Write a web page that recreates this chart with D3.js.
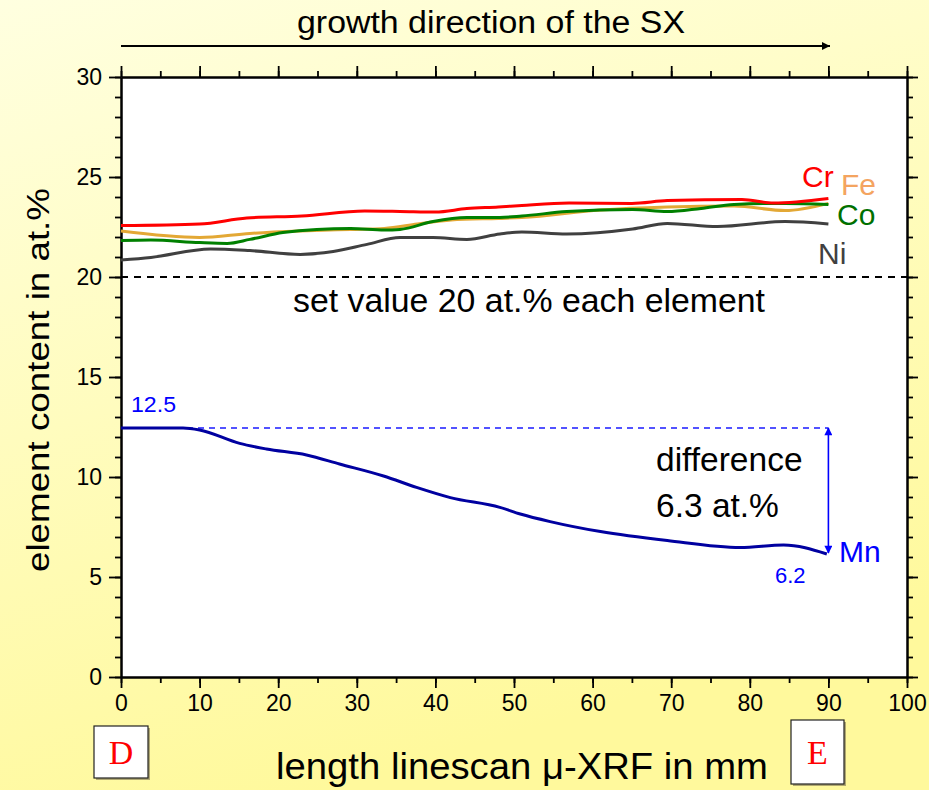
<!DOCTYPE html>
<html>
<head>
<meta charset="utf-8">
<script src="https://cdn.jsdelivr.net/npm/d3@7"></script>
<style>
  html, body { margin: 0; padding: 0; }
  svg { display: block; }
  text { font-family: "Liberation Sans", Arial, sans-serif; }
  text.serif { font-family: "Liberation Serif", "Times New Roman", serif; }
</style>
</head>
<body>
<script>
// element line scans, position in mm, content in at.%
var crPos = [0, 10, 16, 23, 31, 35.5, 40, 44, 48, 51, 57, 65, 69.5, 79, 83, 90];
var crVal = [22.57, 22.65, 22.95, 23.05, 23.3, 23.28, 23.25, 23.42, 23.5, 23.58, 23.7, 23.68, 23.82, 23.88, 23.7, 23.93];

var fePos = [0, 10, 16.4, 22.8, 29.2, 33.5, 37.7, 42, 48, 51, 61, 69.5, 78, 84.5, 90];
var feVal = [22.3, 21.98, 22.18, 22.3, 22.38, 22.43, 22.65, 22.85, 22.93, 22.97, 23.35, 23.5, 23.55, 23.32, 23.68];

var coPos = [0, 3.8, 10, 13.5, 16.4, 20.6, 24.9, 29.2, 33.5, 35.5, 39.7, 44, 48.2, 51, 56.7, 65.1, 69.5, 73.8, 78, 84.5, 90];
var coVal = [21.82, 21.85, 21.72, 21.68, 21.88, 22.22, 22.38, 22.42, 22.35, 22.38, 22.77, 22.97, 22.98, 23.05, 23.27, 23.38, 23.27, 23.43, 23.63, 23.68, 23.63];

var niPos = [0, 3.8, 11.4, 16.4, 22.8, 27, 31.3, 35.5, 39.7, 44, 48.2, 51, 56.7, 65.1, 69.5, 75.9, 84.5, 90];
var niVal = [20.85, 20.98, 21.4, 21.32, 21.13, 21.27, 21.63, 21.97, 21.97, 21.88, 22.15, 22.25, 22.15, 22.4, 22.68, 22.52, 22.77, 22.65];

var mnPos = [0, 4, 7.9, 10, 15.1, 18.5, 23.6, 27.8, 33.4, 37.6, 41.9, 48.2, 50.8, 54.6, 61, 69.5, 78.8, 84.3, 89.8];
var mnVal = [12.45, 12.45, 12.45, 12.35, 11.68, 11.4, 11.1, 10.65, 10.05, 9.48, 8.97, 8.48, 8.15, 7.77, 7.27, 6.82, 6.47, 6.6, 6.15];

var elements = ["Cr", "Fe", "Co", "Ni", "Mn"];
var setValue = 20;
var mnStart = 12.45, mnEnd = 6.2, scanEnd = 90;
var xTicks = [0, 10, 20, 30, 40, 50, 60, 70, 80, 90, 100];
var yTicks = [0, 5, 10, 15, 20, 25, 30];

var width = 929, height = 790;
var margin = {left: 121, right: 22, top: 77, bottom: 113};

var svg = d3.select("body").append("svg")
  .attr("width", width)
  .attr("height", height);

var defs = svg.append("defs");
var grad = defs.append("linearGradient").attr("id", "bg")
  .attr("x1", "0").attr("y1", "0").attr("x2", "0.35").attr("y2", "1");
grad.append("stop").attr("offset", "0").attr("stop-color", "#ffffe0");
grad.append("stop").attr("offset", "1").attr("stop-color", "#fff99c");

svg.append("rect").attr("width", width).attr("height", height).attr("fill", "url(#bg)");

var x = d3.scaleLinear().domain([0, 100]).range([margin.left, width - margin.right]);
var y = d3.scaleLinear().domain([0, 30]).range([height - margin.bottom, margin.top]);

// white plot area
svg.append("rect")
  .attr("x", x(0)).attr("y", y(30))
  .attr("width", x(100) - x(0)).attr("height", y(0) - y(30))
  .attr("fill", "#fff");

// axes
function styleAxis(g) {
  g.selectAll("path").attr("stroke", "#000").attr("stroke-width", 2);
  g.selectAll("line").attr("stroke", "#000").attr("stroke-width", 1.8);
}

var xMinor = d3.range(0, 101, 5);
var yMinor = d3.range(0, 31, 1);

svg.append("g").attr("transform", "translate(0," + y(0) + ")")
  .call(d3.axisBottom(x).tickValues(xMinor).tickSize(6).tickFormat("").tickSizeOuter(0)).call(styleAxis);
svg.append("g").attr("transform", "translate(0," + y(0) + ")")
  .call(d3.axisBottom(x).tickValues(xTicks).tickSize(11).tickPadding(7).tickSizeOuter(0))
  .call(styleAxis)
  .selectAll("text").attr("font-size", 23).attr("font-family", null).attr("fill", "#000");

svg.append("g").attr("transform", "translate(0," + y(30) + ")")
  .call(d3.axisTop(x).tickValues(xMinor).tickSize(6).tickFormat("").tickSizeOuter(0)).call(styleAxis);
svg.append("g").attr("transform", "translate(0," + y(30) + ")")
  .call(d3.axisTop(x).tickValues(xTicks).tickSize(11).tickFormat("").tickSizeOuter(0)).call(styleAxis);

svg.append("g").attr("transform", "translate(" + x(0) + ",0)")
  .call(d3.axisLeft(y).tickValues(yMinor).tickSize(6).tickFormat("").tickSizeOuter(0)).call(styleAxis);
svg.append("g").attr("transform", "translate(" + x(0) + ",0)")
  .call(d3.axisLeft(y).tickValues(yTicks).tickSize(12).tickPadding(7).tickSizeOuter(0))
  .call(styleAxis)
  .selectAll("text").attr("font-size", 23).attr("font-family", null).attr("fill", "#000");

svg.append("g").attr("transform", "translate(" + x(100) + ",0)")
  .call(d3.axisRight(y).tickValues(yMinor).tickSize(6).tickFormat("").tickSizeOuter(0)).call(styleAxis);
svg.append("g").attr("transform", "translate(" + x(100) + ",0)")
  .call(d3.axisRight(y).tickValues(yTicks).tickSize(11).tickFormat("").tickSizeOuter(0)).call(styleAxis);

// set value line
svg.append("line")
  .attr("x1", x(0)).attr("x2", x(100))
  .attr("y1", y(setValue)).attr("y2", y(setValue))
  .attr("stroke", "#000").attr("stroke-width", 1.8).attr("stroke-dasharray", "7,6");

svg.append("text")
  .attr("x", 293).attr("y", y(setValue) + 35)
  .attr("font-size", 33).attr("fill", "#000")
  .attr("textLength", 472).attr("lengthAdjust", "spacingAndGlyphs")
  .text("set value 20 at.% each element");

// Mn reference lines
svg.append("line")
  .attr("x1", x(0)).attr("x2", x(scanEnd))
  .attr("y1", y(mnStart)).attr("y2", y(mnStart))
  .attr("stroke", "#1a1aff").attr("stroke-width", 1.4).attr("stroke-dasharray", "6,5");

defs.append("marker").attr("id", "ah")
  .attr("viewBox", "0 0 10 10").attr("refX", 9).attr("refY", 5)
  .attr("markerWidth", 16).attr("markerHeight", 8).attr("markerUnits", "userSpaceOnUse")
  .attr("orient", "auto-start-reverse")
  .append("path").attr("d", "M0,0 L10,5 L0,10 Z").attr("fill", "#0000ff");

svg.append("line")
  .attr("x1", x(scanEnd)).attr("x2", x(scanEnd))
  .attr("y1", y(mnStart)).attr("y2", y(mnEnd))
  .attr("stroke", "#0000ff").attr("stroke-width", 1.6)
  .attr("marker-start", "url(#ah)").attr("marker-end", "url(#ah)");

// data lines
var series = [
  {name: "Mn", pos: mnPos, val: mnVal, color: "#0000a0"},
  {name: "Ni", pos: niPos, val: niVal, color: "#404040"},
  {name: "Fe", pos: fePos, val: feVal, color: "#e3a835"},
  {name: "Co", pos: coPos, val: coVal, color: "#008000"},
  {name: "Cr", pos: crPos, val: crVal, color: "#ff0000"}
];

var line = d3.line()
  .x(function(d) { return x(d[0]); })
  .y(function(d) { return y(d[1]); })
  .curve(d3.curveMonotoneX);

svg.append("g").selectAll("path")
  .data(series)
  .enter().append("path")
  .attr("d", function(s) { return line(s.pos.map(function(p, i) { return [p, s.val[i]]; })); })
  .attr("fill", "none")
  .attr("stroke", function(s) { return s.color; })
  .attr("stroke-width", 3);

// element labels
var labels = [
  {t: "Cr", x: 802, y: 187, c: "#ff0000"},
  {t: "Fe", x: 841, y: 195, c: "#f4a460"},
  {t: "Co", x: 837, y: 225, c: "#007000"},
  {t: "Ni", x: 818, y: 264, c: "#404040"},
  {t: "Mn", x: 839, y: 562, c: "#0000ff"}
];
svg.append("g").selectAll("text")
  .data(labels)
  .enter().append("text")
  .attr("x", function(d) { return d.x; })
  .attr("y", function(d) { return d.y; })
  .attr("fill", function(d) { return d.c; })
  .attr("font-size", 30)
  .text(function(d) { return d.t; });

svg.append("text").attr("x", 131).attr("y", 412)
  .attr("font-size", 22).attr("fill", "#0000ff")
  .attr("textLength", 45).attr("lengthAdjust", "spacingAndGlyphs").text("12.5");
svg.append("text").attr("x", 775).attr("y", 583)
  .attr("font-size", 22).attr("fill", "#0000ff").text("6.2");

svg.append("text").attr("x", 656).attr("y", 471)
  .attr("font-size", 33.5).attr("fill", "#000").text("difference");
svg.append("text").attr("x", 656).attr("y", 517)
  .attr("font-size", 33.5).attr("fill", "#000").text("6.3 at.%");

// titles
svg.append("text")
  .attr("x", 297).attr("y", 33)
  .attr("font-size", 31).attr("fill", "#000")
  .attr("textLength", 388).attr("lengthAdjust", "spacingAndGlyphs")
  .text("growth direction of the SX");

defs.append("marker").attr("id", "ab")
  .attr("viewBox", "0 0 10 10").attr("refX", 10).attr("refY", 5)
  .attr("markerWidth", 17).attr("markerHeight", 8).attr("markerUnits", "userSpaceOnUse")
  .attr("orient", "auto")
  .append("path").attr("d", "M0,0 L10,5 L0,10 Z").attr("fill", "#000");

svg.append("line")
  .attr("x1", x(0)).attr("x2", 830).attr("y1", 46).attr("y2", 46)
  .attr("stroke", "#000").attr("stroke-width", 2)
  .attr("marker-end", "url(#ab)");

svg.append("text")
  .attr("transform", "translate(49,572) rotate(-90)")
  .attr("font-size", 32).attr("fill", "#000")
  .attr("textLength", 384).attr("lengthAdjust", "spacingAndGlyphs")
  .text("element content in at.%");

svg.append("text")
  .attr("x", 276).attr("y", 779)
  .attr("font-size", 36).attr("fill", "#000")
  .attr("textLength", 492).attr("lengthAdjust", "spacingAndGlyphs")
  .text("length linescan μ-XRF in mm");

// D and E boxes
var boxes = [
  {t: "D", x: 94, y: 726, w: 54, h: 52},
  {t: "E", x: 791, y: 720, w: 53, h: 64}
];
var bg = svg.append("g").selectAll("g").data(boxes).enter().append("g");
bg.append("rect")
  .attr("x", function(d) { return d.x + 2; }).attr("y", function(d) { return d.y + 2; })
  .attr("width", function(d) { return d.w; }).attr("height", function(d) { return d.h; })
  .attr("fill", "#b0a870");
bg.append("rect")
  .attr("x", function(d) { return d.x; }).attr("y", function(d) { return d.y; })
  .attr("width", function(d) { return d.w; }).attr("height", function(d) { return d.h; })
  .attr("fill", "#fff").attr("stroke", "#222").attr("stroke-width", 1.2);
bg.append("text")
  .attr("class", "serif")
  .attr("x", function(d) { return d.x + d.w / 2; })
  .attr("y", function(d) { return d.y + d.h / 2 + 12; })
  .attr("text-anchor", "middle")
  .attr("font-size", 34).attr("fill", "#ff0000")
  .text(function(d) { return d.t; });
</script>
</body>
</html>
